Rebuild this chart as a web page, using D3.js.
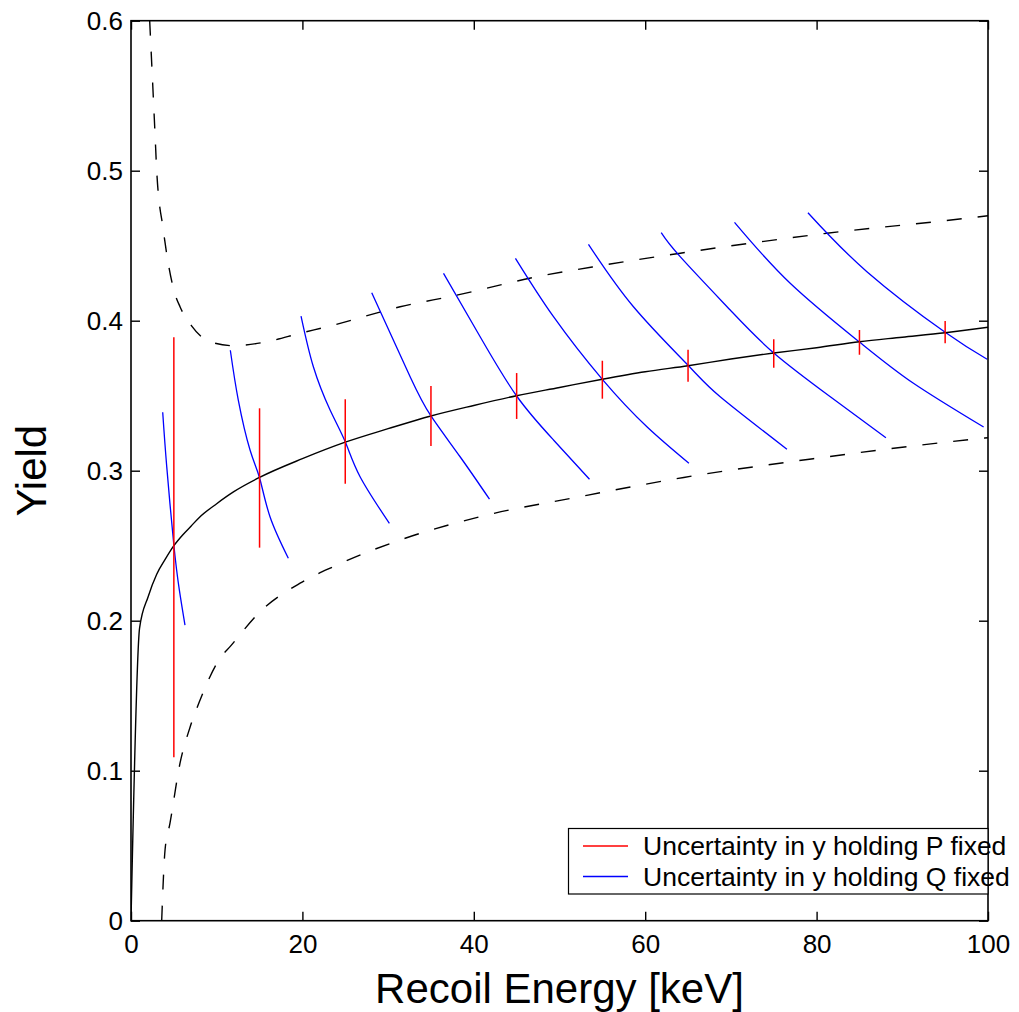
<!DOCTYPE html>
<html>
<head>
<meta charset="utf-8">
<script src="https://cdn.jsdelivr.net/npm/d3@7"></script>
<style>
  body { margin: 0; background: #fff; }
  svg { font-family: "Liberation Sans", Arial, Helvetica, sans-serif; }
</style>
</head>
<body>
<script>
// tick values
var xTicks = [0, 20, 40, 60, 80, 100];
var yTicks = [0, 0.1, 0.2, 0.3, 0.4, 0.5, 0.6];

// solid yield curve
var yieldX = [0, 1, 2, 3, 4, 5, 6, 7, 8, 10, 12, 15, 20, 25, 30, 35, 40, 45, 50, 55, 60, 65, 70, 75, 80, 85, 90, 95, 100];
var yieldY = [0, 0.195, 0.216, 0.231, 0.241, 0.250, 0.257, 0.263, 0.269, 0.278, 0.286, 0.2955, 0.308, 0.319, 0.328, 0.3365, 0.3435, 0.350, 0.3555, 0.361, 0.366, 0.370, 0.3745, 0.3785, 0.382, 0.386, 0.389, 0.392, 0.3956];

// dashed bands
var upperX = [2.18, 2.8, 3.0, 3.77, 5.02, 5.72, 7.0, 9.22, 11.94, 15.84, 19.73, 23.6, 31.4, 38.0, 47.35, 55.1, 64.1, 81.2, 97.5, 100];
var upperY = [0.6, 0.525, 0.5, 0.4605, 0.42, 0.4093, 0.397, 0.386, 0.3833, 0.386, 0.3916, 0.397, 0.4093, 0.417, 0.4293, 0.437, 0.445, 0.4583, 0.4683, 0.47];
var lowerX = [3.58, 3.97, 4.55, 5.72, 6.89, 8.05, 10.39, 11.56, 15.06, 19.73, 23.6, 31.4, 40.7, 52.4, 64.5, 79.6, 98.3, 100];
var lowerY = [0, 0.047, 0.065, 0.105, 0.129, 0.147, 0.175, 0.1827, 0.206, 0.225, 0.236, 0.2538, 0.2693, 0.2827, 0.2955, 0.308, 0.321, 0.322];

// red bars: uncertainty holding P fixed
var barX = [5, 15, 25, 35, 45, 55, 65, 75, 85, 95];
var barLow = [0.109, 0.2487, 0.2913, 0.3165, 0.3345, 0.348, 0.3593, 0.3687, 0.3773, 0.3849];
var barHigh = [0.389, 0.3416, 0.3476, 0.3565, 0.3651, 0.3733, 0.3807, 0.3876, 0.3938, 0.3998];

// blue curves: uncertainty holding Q fixed
var blueX = [
  [3.70, 4.17, 5, 5.64, 6.30],
  [11.59, 12.52, 13.89, 15, 16.22, 18.36],
  [19.84, 21.28, 23.23, 25, 26.73, 30.15],
  [28.09, 32.57, 35, 38.4, 41.83],
  [36.46, 40.74, 45, 49.3, 53.5],
  [44.86, 49.3, 55, 60.2, 65.1],
  [53.38, 58.63, 65, 68.75, 76.54],
  [61.87, 64.08, 69.92, 75, 81.6, 88.09],
  [70.42, 76.92, 85, 91.3, 99.49],
  [78.99, 85.87, 95, 99.9]
];
var blueY = [
  [0.339, 0.3027, 0.2505, 0.2205, 0.197],
  [0.3803, 0.3471, 0.3138, 0.2953, 0.2693, 0.2416],
  [0.4031, 0.3693, 0.3405, 0.3193, 0.296, 0.2649],
  [0.4187, 0.3627, 0.3365, 0.3093, 0.281],
  [0.4316, 0.3893, 0.3498, 0.3205, 0.2943],
  [0.4416, 0.4027, 0.3609, 0.3293, 0.305],
  [0.4509, 0.4093, 0.3703, 0.3493, 0.3143],
  [0.4587, 0.4427, 0.4071, 0.3785, 0.3493, 0.322],
  [0.4656, 0.425, 0.3858, 0.3583, 0.3291],
  [0.472, 0.4327, 0.3923, 0.3743]
];

var legendLabels = ["Uncertainty in y holding P fixed", "Uncertainty in y holding Q fixed"];
var legendColors = ["#ff0000", "#0000ff"];

// svg variables
var width = 1019;
var height = 1012;
var plotLeft = 131, plotRight = 988, plotTop = 20.7, plotBottom = 920.7;

var svg = d3.select("body").append("svg")
  .attr("width", width)
  .attr("height", height);

var x = d3.scaleLinear().domain([0, 100]).range([plotLeft, plotRight]);
var y = d3.scaleLinear().domain([0, 0.6]).range([plotBottom, plotTop]);

svg.append("clipPath").attr("id", "plotClip")
  .append("rect")
  .attr("x", plotLeft).attr("y", plotTop)
  .attr("width", plotRight - plotLeft).attr("height", plotBottom - plotTop);

var plot = svg.append("g").attr("clip-path", "url(#plotClip)");

var line = d3.line()
  .x(function(d) { return x(d[0]); })
  .y(function(d) { return y(d[1]); })
  .curve(d3.curveMonotoneX);

// smoother spline for the blue arcs
var arc = d3.line()
  .x(function(d) { return x(d[0]); })
  .y(function(d) { return y(d[1]); })
  .curve(d3.curveNatural);

function pairs(xs, ys) {
  return xs.map(function(v, i) { return [v, ys[i]]; });
}

// dashed curves
[[upperX, upperY], [lowerX, lowerY]].forEach(function(c) {
  plot.append("path")
    .attr("d", line(pairs(c[0], c[1])))
    .attr("fill", "none")
    .attr("stroke", "#000")
    .attr("stroke-width", 1.4)
    .attr("stroke-dasharray", "15,16");
});

// blue curves
blueX.forEach(function(xs, i) {
  plot.append("path")
    .attr("d", arc(pairs(xs, blueY[i])))
    .attr("fill", "none")
    .attr("stroke", "#0000ff")
    .attr("stroke-width", 1.3);
});

// solid yield curve
plot.append("path")
  .attr("d", line(pairs(yieldX, yieldY)))
  .attr("fill", "none")
  .attr("stroke", "#000")
  .attr("stroke-width", 1.4);

// red bars
plot.selectAll("line.bar")
  .data(barX)
  .enter()
  .append("line")
  .attr("class", "bar")
  .attr("x1", function(d) { return x(d); })
  .attr("x2", function(d) { return x(d); })
  .attr("y1", function(d, i) { return y(barLow[i]); })
  .attr("y2", function(d, i) { return y(barHigh[i]); })
  .attr("stroke", "#ff0000")
  .attr("stroke-width", 1.5);

// axes
function styleAxis(g) {
  g.select(".domain").remove();
  g.selectAll("line").attr("stroke", "#000").attr("stroke-width", 1.4);
  g.selectAll("text").attr("fill", "#000").style("font-size", "26px")
    .style("font-family", "'Liberation Sans', Arial, Helvetica, sans-serif");
}

svg.append("g")
  .attr("transform", "translate(0," + plotBottom + ")")
  .call(d3.axisBottom(x).tickValues(xTicks).tickFormat(d3.format("d"))
    .tickSizeInner(-9).tickSizeOuter(0).tickPadding(14))
  .call(styleAxis);

svg.append("g")
  .attr("transform", "translate(0," + plotTop + ")")
  .call(d3.axisTop(x).tickValues(xTicks).tickFormat("")
    .tickSizeInner(-9).tickSizeOuter(0))
  .call(styleAxis);

svg.append("g")
  .attr("transform", "translate(" + plotLeft + ",0)")
  .call(d3.axisLeft(y).tickValues(yTicks).tickFormat(function(d) { return d === 0 ? "0" : d3.format(".1f")(d); })
    .tickSizeInner(-9).tickSizeOuter(0).tickPadding(8))
  .call(styleAxis);

svg.append("g")
  .attr("transform", "translate(" + plotRight + ",0)")
  .call(d3.axisRight(y).tickValues(yTicks).tickFormat("")
    .tickSizeInner(-9).tickSizeOuter(0))
  .call(styleAxis);

// box
svg.append("rect")
  .attr("x", plotLeft).attr("y", plotTop)
  .attr("width", plotRight - plotLeft).attr("height", plotBottom - plotTop)
  .attr("fill", "none")
  .attr("stroke", "#000")
  .attr("stroke-width", 1.6);

// axis labels
svg.append("text")
  .attr("x", (plotLeft + plotRight) / 2)
  .attr("y", 1003)
  .attr("text-anchor", "middle")
  .style("font-size", "42px")
  .text("Recoil Energy [keV]");

svg.append("text")
  .attr("transform", "translate(46," + (plotTop + plotBottom) / 2 + ") rotate(-90)")
  .attr("text-anchor", "middle")
  .style("font-size", "42px")
  .text("Yield");

// legend
var legend = svg.append("g");
legend.append("rect")
  .attr("x", 568.5).attr("y", 828.5)
  .attr("width", plotRight - 568.5).attr("height", 65.5)
  .attr("fill", "#fff")
  .attr("stroke", "#000")
  .attr("stroke-width", 1.2);

legendLabels.forEach(function(label, i) {
  var ly = 846 + i * 30.5;
  legend.append("line")
    .attr("x1", 583).attr("x2", 628)
    .attr("y1", ly).attr("y2", ly)
    .attr("stroke", legendColors[i])
    .attr("stroke-width", 1.3);
  legend.append("text")
    .attr("x", 643)
    .attr("y", ly + 9)
    .style("font-size", "26.5px")
    .text(label);
});
</script>
</body>
</html>
